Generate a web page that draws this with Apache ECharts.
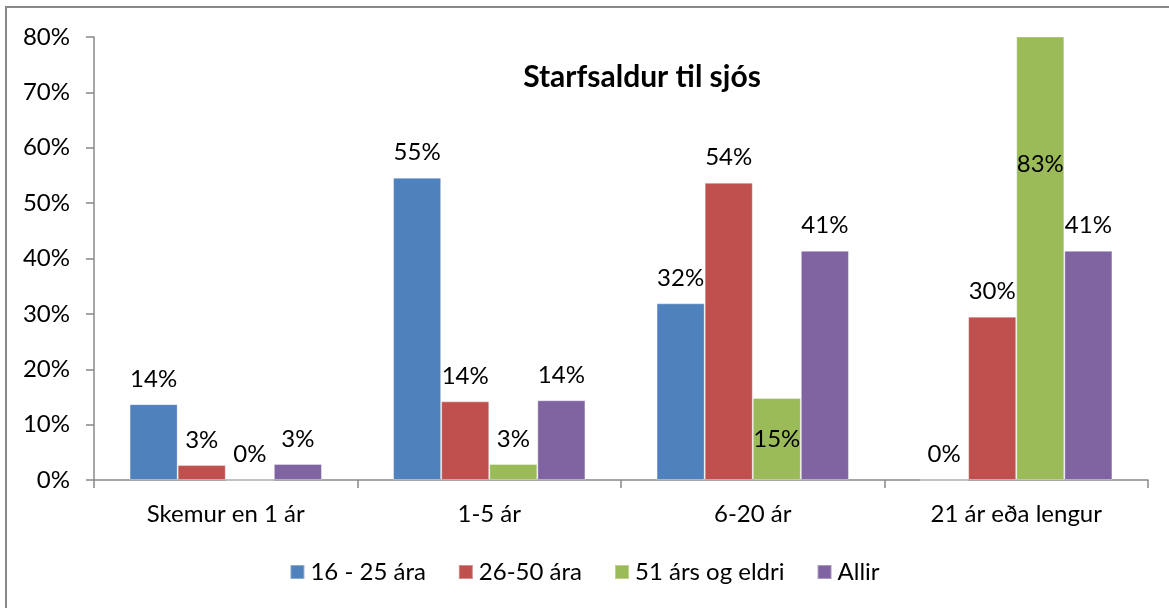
<!DOCTYPE html>
<html><head><meta charset="utf-8">
<script src="https://cdn.jsdelivr.net/npm/echarts@6/dist/echarts.min.js"></script>
<style>
html,body{margin:0;padding:0;background:#fff;overflow:hidden}
#frame{position:absolute;left:5px;top:6px;width:1170px;height:610px;border:2px solid #888;box-sizing:border-box}
#c{position:absolute;left:0;top:0;width:1169px;height:608px}
</style></head>
<body><div id="frame"></div><div id="c"></div>
<script>
const categories = ["Skemur en 1 ár", "1-5 ár", "6-20 ár", "21 ár eða lengur"];
const seriesNames = ["16 - 25 ára", "26-50 ára", "51 árs og eldri", "Allir"];
const colors = ["#4F81BD", "#C0504D", "#9BBB59", "#8064A2"];
const v1625 = [13.7, 54.6, 31.9, 0];
const v2650 = [2.7, 14.2, 53.7, 29.5];
const v51 = [0, 2.9, 14.8, 82.8];
const vAllir = [2.9, 14.4, 41.4, 41.4];
const yTicks = [0, 10, 20, 30, 40, 50, 60, 70, 80];

const font = "Lato, 'Open Sans', sans-serif";
const allVals = [v1625, v2650, v51, vAllir];
const chart = echarts.init(document.getElementById('c'), null, {renderer: 'canvas'});

function mkData(vals, si) {
  return vals.map((v, i) => {
    const d = {value: v};
    if (si === 2 && i === 2) d.label = {position: 'inside'};
    if (si === 2 && i === 3) d.label = {position: 'insideTop', distance: 116};
    return d;
  });
}

chart.setOption({
  animation: false,
  title: {text: "Starfsaldur til sjós", left: 637, textAlign: 'center', top: 57,
    textStyle: {fontFamily: font, fontWeight: 'bold', fontSize: 30, color: '#000'}},
  grid: {left: 94, right: 21, top: 37, bottom: 128, containLabel: false},
  legend: {top: 555, left: 'center', itemWidth: 14, itemHeight: 14, itemGap: 32,
    icon: 'rect', textStyle: {fontFamily: font, fontSize: 24, color: '#000', padding: [0,0,0,1]}},
  xAxis: {type: 'category', data: categories,
    axisLine: {lineStyle: {color: '#888', width: 1.5}},
    axisTick: {show: true, length: 8, lineStyle: {color: '#888', width: 1.5}, alignWithLabel: false},
    axisLabel: {fontFamily: font, fontSize: 24, color: '#000', margin: 22}},
  yAxis: {type: 'value', min: 0, max: 80, interval: 10,
    axisLine: {show: true, lineStyle: {color: '#888', width: 1.5}},
    axisTick: {show: true, length: 8, lineStyle: {color: '#888', width: 1.5}},
    splitLine: {show: false},
    axisLabel: {fontFamily: font, fontSize: 24, color: '#000', margin: 24,
      formatter: v => yTicks.includes(v) ? v + '%' : ''}},
  series: allVals.map((vals, si) => ({
    type: 'bar', name: seriesNames[si], data: mkData(vals, si),
    barGap: '0%', barCategoryGap: '27%',
    itemStyle: {color: colors[si], borderColor: 'rgba(255,255,255,0.35)', borderWidth: 1},
    label: {show: true, position: 'top', distance: 13, fontFamily: font, fontSize: 24, color: '#000',
      formatter: p => Math.round(p.value) + '%'}
  }))
});
</script></body></html>
